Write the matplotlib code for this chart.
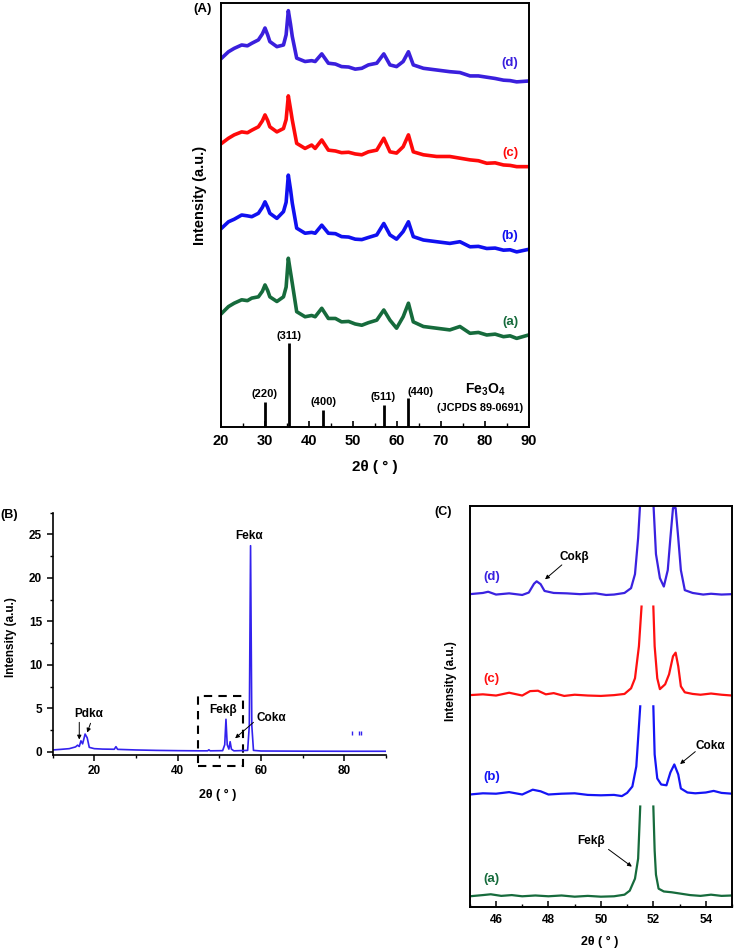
import numpy as np
import matplotlib
matplotlib.use("Agg")
import matplotlib.pyplot as plt
from matplotlib.patches import Rectangle
from matplotlib.ticker import MultipleLocator

plt.rcParams['font.family'] = ['Liberation Sans', 'DejaVu Sans']
plt.rcParams['font.weight'] = 'bold'
plt.rcParams['mathtext.fontset'] = 'custom'
plt.rcParams['mathtext.rm'] = 'Liberation Sans:bold'
plt.rcParams['mathtext.bf'] = 'Liberation Sans:bold'

# ---------------- Panel A data ----------------
a_x = [20.15, 21.7, 23.0, 24.7, 26.0, 27.0, 28.5, 29.4, 30.0, 30.6, 31.1, 32.7, 34.2, 34.8, 35.3, 35.8, 36.2, 37.2, 39.1, 40.6, 41.4,
       42.9, 44.4, 46.0, 47.4, 49.0, 50.5, 52.0, 53.5, 55.4, 57.0, 58.4, 59.9, 61.4, 62.6, 63.7, 66.0, 69.0, 72.0,
       74.3, 76.6, 78.5, 80.4, 82.3, 84.2, 85.7, 87.2, 89.9]
curve_a = [26.8, 28.4, 29.2, 30.0, 29.8, 30.4, 30.7, 32.0, 33.5, 32.2, 30.7, 29.6, 30.7, 33.0, 39.8, 36.5, 33.9, 27.2, 26.0, 26.3, 26.0,
           28.0, 25.6, 25.6, 24.8, 24.9, 24.3, 24.0, 24.6, 25.2, 27.6, 25.2, 23.3, 26.0, 29.2, 24.8, 23.7, 23.3, 22.9,
           23.7, 22.1, 22.3, 21.7, 21.9, 21.3, 21.5, 20.9, 21.7]
curve_b = [46.9, 48.4, 49.0, 50.0, 49.8, 49.6, 50.4, 51.8, 53.1, 51.8, 50.4, 49.2, 50.8, 53.0, 59.4, 56.0, 52.8, 46.9, 45.7, 45.9, 45.7,
           47.6, 45.7, 45.6, 44.9, 44.8, 44.3, 44.2, 44.7, 45.3, 48.0, 45.3, 44.3, 46.1, 48.4, 44.9, 44.1, 43.7, 43.3,
           43.7, 42.5, 42.6, 42.1, 42.2, 41.7, 41.8, 41.3, 41.9]
curve_c = [66.9, 68.1, 68.9, 69.6, 69.4, 70.0, 70.8, 72.2, 73.6, 72.3, 70.8, 69.6, 70.4, 72.5, 78.1, 75.0, 72.4, 66.9, 65.7, 66.5, 65.7,
           67.7, 65.3, 65.1, 64.7, 64.8, 64.4, 64.2, 64.9, 65.3, 68.1, 64.9, 64.6, 66.1, 68.9, 64.9, 64.2, 63.8, 63.8,
           63.4, 63.0, 62.8, 62.2, 62.3, 61.8, 61.7, 61.4, 61.4]
curve_d = [87.0, 88.5, 89.3, 90.1, 89.9, 90.5, 91.3, 92.7, 94.1, 92.5, 90.9, 89.7, 90.1, 92.5, 98.2, 95.0, 92.1, 87.0, 86.2, 86.4, 86.2,
           88.0, 85.8, 85.6, 85.0, 84.9, 84.4, 84.6, 85.4, 85.8, 88.0, 85.4, 85.0, 86.2, 88.5, 85.4, 84.6, 84.2, 83.8,
           83.6, 82.8, 82.8, 82.5, 82.2, 81.8, 81.7, 81.4, 81.6]
ref_pos = [30.1, 35.5, 43.1, 57.0, 62.6]
ref_height = [6.0, 19.9, 4.0, 5.2, 6.9]
ref_labels = ['(220)', '(311)', '(400)', '(511)', '(440)']
ref_label_xy = [(29.85, 7.9), (35.5, 21.5), (43.3, 6.0), (56.9, 7.1), (65.4, 8.3)]
curve_names_A = ['(a)', '(b)', '(c)', '(d)']
curve_label_y_A = [24.8, 45.0, 64.6, 85.8]
colors_A = ['#166B3C', '#1010F0', '#FF0A0A', '#3A1FDD']

# ---------------- Panel B data ----------------
b_x = [10.0, 12.0, 14.0, 15.5, 16.0, 16.4, 16.8, 17.2, 17.8, 18.3, 18.8, 20.0, 22.0, 24.8, 25.2, 25.6,
       30.0, 35.0, 40.0, 45.0, 47.2, 47.5, 47.8, 50.8, 51.3, 51.6, 51.9, 52.3, 52.6, 52.9, 53.5,
       56.8, 57.2, 57.5, 57.8, 58.2, 60.0, 70.0, 80.0, 90.0]
b_y = [0.2, 0.27, 0.35, 0.55, 0.75, 0.6, 1.25, 0.9, 2.03, 1.6, 0.5, 0.35, 0.3, 0.28, 0.58, 0.27,
       0.2, 0.15, 0.12, 0.1, 0.1, 0.22, 0.1, 0.12, 0.8, 3.73, 0.8, 0.3, 1.15, 0.3, 0.1,
       0.15, 3.0, 23.7, 3.0, 0.15, 0.08, 0.06, 0.05, 0.05]
b_marks_x = [81.8, 83.6, 84.1]
b_marks_y = [2.2, 2.2, 2.2]
color_B = '#3322EE'

# ---------------- Panel C data ----------------
nan = np.nan
ca_x = [45.0, 45.5, 45.8, 46.2, 46.6, 47.0, 47.5, 48.0, 48.5, 49.0, 49.5, 50.0, 50.5, 50.9, 51.1, 51.3,
        51.42, 51.5, 51.75, 52.0, 52.05, 52.1, 52.2, 52.4, 52.7, 53.0, 53.4, 53.8, 54.2, 54.6, 55.0]
ca_y = [2.6, 2.9, 3.1, 2.7, 2.9, 2.6, 2.8, 2.6, 2.8, 2.5, 2.7, 2.5, 2.6, 3.0, 4.0, 7.0,
        12.0, 25.0, nan, 25.0, 14.0, 8.0, 4.5, 3.8, 3.6, 3.3, 2.9, 2.7, 3.0, 2.7, 2.8]
cb_x = [45.0, 45.5, 46.0, 46.5, 47.0, 47.4, 47.7, 48.0, 48.5, 49.0, 49.5, 50.0, 50.5, 50.8, 51.0, 51.2,
        51.35, 51.5, 51.75, 52.0, 52.05, 52.15, 52.3, 52.5, 52.65, 52.8, 52.95, 53.05, 53.3, 53.6, 54.0,
        54.3, 54.6, 55.0]
cb_y = [28.0, 28.3, 28.2, 28.6, 28.0, 29.2, 28.8, 28.0, 28.2, 28.3, 27.9, 27.8, 27.9, 27.6, 28.4, 30.0,
        35.0, 50.0, nan, 50.0, 38.0, 32.0, 30.5, 30.3, 33.5, 35.5, 33.0, 29.5, 28.5, 28.3, 28.5,
        28.9, 28.4, 28.2]
cc_x = [45.0, 45.5, 46.0, 46.5, 47.0, 47.3, 47.6, 47.9, 48.2, 48.6, 49.0, 49.5, 50.0, 50.5, 50.9, 51.15,
        51.3, 51.45, 51.55, 51.75, 52.0, 52.05, 52.15, 52.25, 52.45, 52.6, 52.75, 52.85, 52.95, 53.05,
        53.2, 53.5, 53.8, 54.2, 54.6, 55.0]
cc_y = [52.8, 53.0, 52.7, 53.4, 52.7, 53.8, 53.9, 53.0, 53.3, 52.6, 52.9, 52.7, 52.6, 52.8, 53.1, 54.5,
        57.0, 65.0, 74.9, nan, 74.9, 65.0, 57.0, 54.3, 55.5, 58.0, 62.5, 63.4, 60.0, 55.0,
        53.5, 53.1, 52.9, 53.2, 52.9, 52.7]
cd_x = [45.0, 45.5, 45.7, 46.0, 46.5, 47.0, 47.25, 47.45, 47.55, 47.7, 47.85, 48.2, 48.7, 49.2, 49.8, 50.2,
        50.5, 50.9, 51.15, 51.3, 51.42, 51.5, 51.75, 52.0, 52.1, 52.25, 52.4, 52.55, 52.65, 52.75, 52.85,
        52.95, 53.05, 53.2, 53.5, 53.9, 54.2, 54.6, 55.0]
cd_y = [78.0, 78.3, 78.6, 77.9, 78.2, 77.8, 78.4, 80.6, 81.2, 80.5, 78.8, 78.3, 78.2, 78.0, 78.2, 77.8,
        77.9, 78.3, 79.5, 83.0, 92.0, 101.0, nan, 101.0, 88.0, 82.0, 79.9, 84.0, 92.0, 99.5, 99.5,
        92.0, 84.0, 79.0, 78.3, 77.9, 78.1, 77.9, 78.0]
curve_names_C = ['(a)', '(b)', '(c)', '(d)']
curve_label_y_C = [6.8, 32.3, 56.8, 82.4]
colors_C = ['#166B3C', '#1515F5', '#FF1010', '#3A22E0']

fig = plt.figure(figsize=(7.34, 9.52), dpi=100)

# ---------- Panel A ----------
axA = fig.add_axes([221/734, 1-427/952, 308/734, 424/952])
for ys, col in zip([curve_a, curve_b, curve_c, curve_d], colors_A):
    axA.plot(a_x, ys, color=col, lw=2.6, solid_joinstyle='round')
axA.vlines(ref_pos, 0, ref_height, color='black', lw=2.0)
for lab, (x, y) in zip(ref_labels, ref_label_xy):
    axA.text(x, y, lab, ha='center', va='center', fontsize=8, fontweight='bold')
axA.text(80.0, 8.7, r'Fe$_3$O$_4$', ha='center', va='center', fontsize=10, fontweight='bold')
axA.text(78.9, 4.4, '(JCPDS 89-0691)', ha='center', va='center', fontsize=7.8, fontweight='bold')
for name, y, col in zip(curve_names_A, curve_label_y_A, colors_A):
    axA.text(85.7, y, name, ha='center', va='center', fontsize=9.5, fontweight='bold', color=col)
axA.set_xlim(20, 90)
axA.set_ylim(0, 100)
axA.set_yticks([])
axA.xaxis.set_major_locator(MultipleLocator(10))
axA.xaxis.set_minor_locator(MultipleLocator(5))
axA.tick_params(axis='x', which='major', direction='in', length=4, width=1.2, labelsize=10.5, pad=5)
axA.tick_params(axis='x', which='minor', direction='in', length=3, width=1.0)
for lbl in axA.get_xticklabels():
    lbl.set_fontweight('bold')
for s in axA.spines.values():
    s.set_linewidth(1.4)
axA.set_xlabel('2θ ( ° )', fontsize=11, fontweight='bold')
axA.xaxis.set_label_coords(0.5, -0.077)
axA.set_ylabel('Intensity (a.u.)', fontsize=10.5, fontweight='bold')
axA.yaxis.set_label_coords(-0.044, 0.547)
fig.text(193/734, 1-9/952, '(A)', ha='left', va='center', fontsize=9.5, fontweight='bold')

# ---------- Panel B ----------
axB = fig.add_axes([52.6/734, 1-755/952, 333.4/734, 242.3/952])
axB.plot(b_x, b_y, color=color_B, lw=1.2)
axB.plot(b_marks_x, b_marks_y, ls='none', marker='|', ms=3, mew=1.0, color=color_B)
axB.set_xlim(10, 90)
axB.set_ylim(-0.38, 27.5)
axB.spines['top'].set_visible(False)
axB.spines['right'].set_visible(False)
axB.spines['left'].set_linewidth(1.2)
axB.spines['bottom'].set_linewidth(1.2)
axB.xaxis.set_major_locator(MultipleLocator(20))
axB.xaxis.set_minor_locator(MultipleLocator(10))
axB.yaxis.set_major_locator(MultipleLocator(5))
axB.yaxis.set_minor_locator(MultipleLocator(2.5))
axB.tick_params(which='major', direction='out', length=4, width=1.1, labelsize=8.5)
axB.tick_params(which='minor', direction='out', length=2.5, width=1.0)
for lbl in axB.get_xticklabels() + axB.get_yticklabels():
    lbl.set_fontweight('bold')
axB.add_patch(Rectangle((44.8, -1.7), 11.0, 8.1, fill=False, ls=(0, (4, 3)), lw=1.5,
                        edgecolor='black', clip_on=False))
axB.text(57.1, 24.85, 'Fekα', ha='center', va='center', fontsize=8.5, fontweight='bold')
axB.text(50.8, 4.8, 'Fekβ', ha='center', va='center', fontsize=8.5, fontweight='bold')
axB.text(62.4, 3.9, 'Cokα', ha='center', va='center', fontsize=8.5, fontweight='bold')
axB.text(18.6, 4.34, 'Pdkα', ha='center', va='center', fontsize=8.5, fontweight='bold')
ap = dict(arrowstyle='-|>', lw=0.7, color='black', mutation_scale=6, shrinkA=0, shrinkB=0)
axB.annotate('', xy=(53.8, 1.54), xytext=(58.2, 3.38), arrowprops=ap)
axB.annotate('', xy=(16.4, 1.4), xytext=(16.4, 3.38), arrowprops=ap)
axB.annotate('', xy=(18.3, 2.2), xytext=(19.1, 3.27), arrowprops=ap)
axB.set_xlabel('2θ ( ° )', fontsize=9, fontweight='bold')
axB.xaxis.set_label_coords(0.496, -0.14)
axB.set_ylabel('Intensity (a.u.)', fontsize=8.5, fontweight='bold')
axB.yaxis.set_label_coords(-0.108, 0.487)
fig.text(0/734, 1-515/952, '(B)', ha='left', va='center', fontsize=9, fontweight='bold')

# ---------- Panel C ----------
axC = fig.add_axes([469.8/734, 1-906.7/952, 262.2/734, 400.7/952])
for xs, ys, col in zip([ca_x, cb_x, cc_x, cd_x], [ca_y, cb_y, cc_y, cd_y], colors_C):
    axC.plot(xs, ys, color=col, lw=1.6)
for name, y, col in zip(curve_names_C, curve_label_y_C, colors_C):
    axC.text(45.82, y, name, ha='center', va='center', fontsize=9.5, fontweight='bold', color=col)
axC.text(48.98, 87.2, 'Cokβ', ha='center', va='center', fontsize=8.5, fontweight='bold')
axC.text(54.17, 40.1, 'Cokα', ha='center', va='center', fontsize=8.5, fontweight='bold')
axC.text(49.63, 16.5, 'Fekβ', ha='center', va='center', fontsize=8.5, fontweight='bold')
axC.annotate('', xy=(47.87, 81.7), xytext=(48.51, 85.3), arrowprops=ap)
axC.annotate('', xy=(53.02, 35.6), xytext=(53.6, 38.7), arrowprops=ap)
axC.annotate('', xy=(51.18, 10.0), xytext=(50.29, 14.3), arrowprops=ap)
axC.set_xlim(45, 55)
axC.set_ylim(0, 100)
axC.set_yticks([])
axC.xaxis.set_major_locator(MultipleLocator(2))
axC.xaxis.set_minor_locator(MultipleLocator(1))
axC.tick_params(axis='x', which='major', direction='in', length=4, width=1.1, labelsize=8.5, pad=5)
axC.tick_params(axis='x', which='minor', direction='in', length=2.5, width=1.0)
for lbl in axC.get_xticklabels():
    lbl.set_fontweight('bold')
for s in axC.spines.values():
    s.set_linewidth(1.4)
axC.set_xlabel('2θ ( ° )', fontsize=9, fontweight='bold')
axC.xaxis.set_label_coords(0.497, -0.074)
axC.set_ylabel('Intensity (a.u.)', fontsize=8.5, fontweight='bold')
axC.yaxis.set_label_coords(-0.047, 0.563)
fig.text(442.7/734, 1-511.7/952, '(C)', ha='center', va='center', fontsize=9, fontweight='bold')

fig.savefig('out.png', dpi=100)
